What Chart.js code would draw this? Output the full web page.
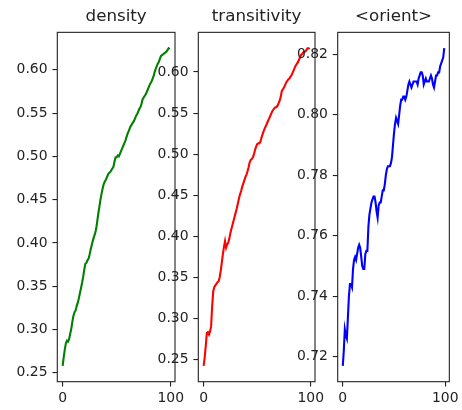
<!DOCTYPE html>
<html>
<head>
<meta charset="utf-8">
<script src="https://cdn.jsdelivr.net/npm/chart.js@4.4.1/dist/chart.umd.min.js"></script>
<style>
  body { margin: 0; background: #fff; }
  #wrap { position: relative; width: 462px; height: 410px; }
  #wrap canvas { position: absolute; left: 0; top: 0; }
</style>
</head>
<body>
<div id="wrap">
  <canvas id="densityChart" width="462" height="410"></canvas>
  <canvas id="transitivityChart" width="462" height="410"></canvas>
  <canvas id="orientChart" width="462" height="410"></canvas>
</div>
<script>
// step index 0..99 on every x axis
const steps = [...Array(100).keys()];

const density = [
    0.258, 0.268, 0.277, 0.284, 0.287, 0.286, 0.289, 0.295, 0.301, 0.309,
    0.316, 0.320, 0.322, 0.327, 0.331, 0.336, 0.342, 0.348, 0.354, 0.361,
    0.369, 0.376, 0.377, 0.380, 0.382, 0.387, 0.393, 0.398, 0.403, 0.407,
    0.411, 0.416, 0.425, 0.434, 0.442, 0.450, 0.457, 0.463, 0.468, 0.471,
    0.473, 0.476, 0.479, 0.481, 0.482, 0.484, 0.486, 0.488, 0.494, 0.499,
    0.499, 0.501, 0.500, 0.503, 0.506, 0.509, 0.512, 0.515, 0.518, 0.522,
    0.526, 0.529, 0.532, 0.535, 0.537, 0.539, 0.541, 0.544, 0.547, 0.549,
    0.552, 0.555, 0.557, 0.561, 0.566, 0.568, 0.570, 0.572, 0.575, 0.578,
    0.581, 0.584, 0.586, 0.589, 0.592, 0.597, 0.601, 0.604, 0.607, 0.609,
    0.613, 0.616, 0.617, 0.618, 0.619, 0.620, 0.621, 0.623, 0.625, 0.624
];

const transitivity = [
    0.242, 0.252, 0.266, 0.282, 0.283, 0.280, 0.284, 0.290, 0.315, 0.333,
    0.338, 0.340, 0.342, 0.344, 0.345, 0.350, 0.358, 0.368, 0.378, 0.387,
    0.394, 0.386, 0.390, 0.392, 0.397, 0.404, 0.409, 0.414, 0.419, 0.424,
    0.429, 0.434, 0.440, 0.446, 0.451, 0.455, 0.460, 0.464, 0.468, 0.472,
    0.475, 0.479, 0.484, 0.490, 0.493, 0.494, 0.496, 0.500, 0.505, 0.509,
    0.512, 0.513, 0.513, 0.515, 0.520, 0.524, 0.528, 0.531, 0.534, 0.537,
    0.540, 0.543, 0.546, 0.549, 0.552, 0.554, 0.556, 0.557, 0.557, 0.559,
    0.562, 0.565, 0.570, 0.577, 0.579, 0.581, 0.584, 0.587, 0.589, 0.591,
    0.592, 0.594, 0.596, 0.599, 0.602, 0.605, 0.608, 0.610, 0.612, 0.615,
    0.618, 0.621, 0.622, 0.624, 0.625, 0.625, 0.627, 0.629, 0.629, 0.628
];

const orient = [
    0.717, 0.722, 0.729, 0.727, 0.726, 0.733, 0.740, 0.744, 0.744, 0.743,
    0.749, 0.752, 0.753, 0.752, 0.754, 0.756, 0.757, 0.756, 0.753, 0.750,
    0.749, 0.749, 0.754, 0.755, 0.755, 0.763, 0.767, 0.769, 0.771, 0.772,
    0.773, 0.773, 0.771, 0.768, 0.766, 0.770, 0.771, 0.771, 0.773, 0.775,
    0.775, 0.777, 0.780, 0.782, 0.783, 0.783, 0.783, 0.784, 0.786, 0.790,
    0.794, 0.797, 0.799, 0.798, 0.797, 0.800, 0.803, 0.805, 0.805, 0.806,
    0.806, 0.805, 0.806, 0.808, 0.810, 0.811, 0.810, 0.809, 0.810, 0.811,
    0.811, 0.811, 0.811, 0.810, 0.812, 0.813, 0.814, 0.814, 0.813, 0.810,
    0.811, 0.812, 0.811, 0.811, 0.811, 0.812, 0.813, 0.812, 0.810, 0.809,
    0.811, 0.813, 0.813, 0.814, 0.814, 0.816, 0.817, 0.818, 0.819, 0.822
];

const xTicks = [0, 100];
const yTicksA = [0.25, 0.30, 0.35, 0.40, 0.45, 0.50, 0.55, 0.60];   // density, transitivity
const yTicksB = [0.72, 0.74, 0.76, 0.78, 0.80, 0.82];               // <orient>

const titles = ['density', 'transitivity', '<orient>'];

const FONT = 'DejaVu Sans';
const INK = '#222';

// black frame around the plot area, like matplotlib spines
const frame = {
    id: 'frame',
    afterDraw(chart) {
        const a = chart.chartArea;
        const c = chart.ctx;
        c.save();
        c.strokeStyle = INK;
        c.lineWidth = 1.1;
        c.strokeRect(a.left, a.top, a.right - a.left, a.bottom - a.top);
        c.restore();
    }
};

function margins(values) {
    const lo = Math.min(...values);
    const hi = Math.max(...values);
    const pad = (hi - lo) * 0.05;
    return [lo - pad, hi + pad];
}

// left, right of each axes box in page pixels
const boxes = [[57.3, 175], [198.3, 315], [337.7, 455]];
const boxTop = 32.3;
const boxBottom = 381.7;
const yAxisW = 50;
const xAxisH = 26;

function makeChart(id, title, values, color, yTicks, box) {
    const ctx = document.getElementById(id).getContext('2d');
    const [yMin, yMax] = margins(values);
    const points = steps.map((s, i) => ({ x: s, y: values[i] }));
    const tickGrid = {
        drawOnChartArea: false,
        drawTicks: true,
        tickLength: 4.9,
        color: INK,
        lineWidth: 1.1
    };
    return new Chart(ctx, { // eslint-disable-line
        type: 'line',
        data: {
            datasets: [{
                data: points,
                borderColor: color,
                borderWidth: 2.1,
                pointRadius: 0,
                tension: 0,
                fill: false
            }]
        },
        options: {
            responsive: false,
            animation: false,
            devicePixelRatio: 1,
            layout: {
                padding: {
                    left: box[0] - yAxisW,
                    right: 462 - box[1],
                    top: 0,
                    bottom: 410 - boxBottom - xAxisH
                }
            },
            plugins: {
                legend: { display: false },
                tooltip: { enabled: false },
                title: {
                    display: true,
                    text: title,
                    fullSize: false,
                    color: INK,
                    font: { family: FONT, size: 16.7, weight: 'normal' },
                    padding: { top: 6.8, bottom: 5.5 }
                }
            },
            scales: {
                x: {
                    type: 'linear',
                    min: -4.95,
                    max: 103.95,
                    afterFit: (scale) => { scale.height = xAxisH; },
                    afterBuildTicks: (scale) => { scale.ticks = xTicks.map(v => ({ value: v })); },
                    grid: tickGrid,
                    border: { display: false },
                    ticks: {
                        color: INK,
                        padding: 3,
                        maxRotation: 0,
                        font: { family: FONT, size: 13.9 },
                        callback: (v) => String(v)
                    }
                },
                y: {
                    type: 'linear',
                    min: yMin,
                    max: yMax,
                    afterFit: (scale) => { scale.width = yAxisW; },
                    afterBuildTicks: (scale) => { scale.ticks = yTicks.map(v => ({ value: v })); },
                    grid: tickGrid,
                    border: { display: false },
                    ticks: {
                        color: INK,
                        padding: 4.9,
                        font: { family: FONT, size: 13.9 },
                        callback: (v) => v.toFixed(2)
                    }
                }
            }
        },
        plugins: [frame]
    });
}

makeChart('densityChart', titles[0], density, '#008000', yTicksA, boxes[0]);
makeChart('transitivityChart', titles[1], transitivity, '#ff0000', yTicksA, boxes[1]);
makeChart('orientChart', titles[2], orient, '#0000ff', yTicksB, boxes[2]);
</script>
</body>
</html>
